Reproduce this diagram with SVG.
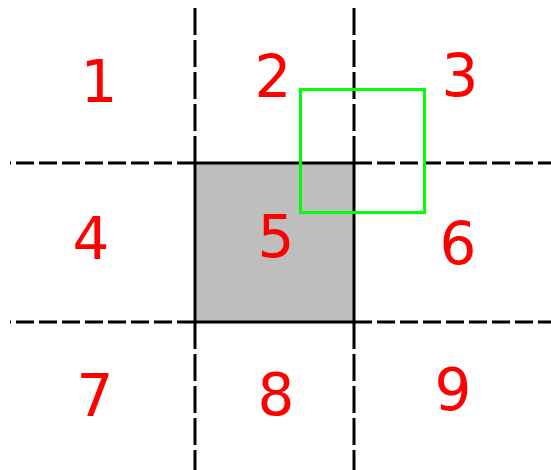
<svg xmlns="http://www.w3.org/2000/svg" width="551" height="470" viewBox="0 0 551 470">
<style>
.bg{fill:#ffffff}
.dh{stroke:#000;stroke-width:3;fill:none;stroke-dasharray:18 5}
.dv{stroke:#000;stroke-width:3;fill:none;stroke-dasharray:27 5}
.sq{fill:#bebebe;stroke:#000;stroke-width:3}
.win{fill:none;stroke:#00ff00;stroke-width:3}
.num{font-family:"DejaVu Sans",Verdana,sans-serif;font-size:58px;fill:#ff0000;text-anchor:middle}
</style>
<rect class="bg" x="0" y="0" width="551" height="470"/>
<g id="connectors">
<line class="dh" x1="195" y1="163" x2="10" y2="163"/>
<line class="dh" x1="354" y1="163" x2="551" y2="163"/>
<line class="dh" x1="195" y1="322" x2="10" y2="322"/>
<line class="dh" x1="354" y1="322" x2="551" y2="322"/>
<line class="dv" x1="195" y1="163" x2="195" y2="7"/>
<line class="dv" x1="354" y1="163" x2="354" y2="7"/>
<line class="dv" x1="195" y1="322" x2="195" y2="470"/>
<line class="dv" x1="354" y1="322" x2="354" y2="470"/>
</g>
<g id="cell5"><rect class="sq" x="195" y="163" width="159" height="159"/></g>
<g id="window"><rect class="win" x="300.5" y="89.5" width="124" height="123"/></g>
<g id="label1"><text class="num" x="99" y="102">1</text></g>
<g id="label2"><text class="num" x="273" y="97">2</text></g>
<g id="label3"><text class="num" x="460" y="96">3</text></g>
<g id="label4"><text class="num" x="91" y="259">4</text></g>
<g id="label5"><text class="num" x="276" y="257">5</text></g>
<g id="label6"><text class="num" x="458" y="264">6</text></g>
<g id="label7"><text class="num" x="95" y="416">7</text></g>
<g id="label8"><text class="num" x="276" y="415">8</text></g>
<g id="label9"><text class="num" x="453" y="410">9</text></g>
</svg>
